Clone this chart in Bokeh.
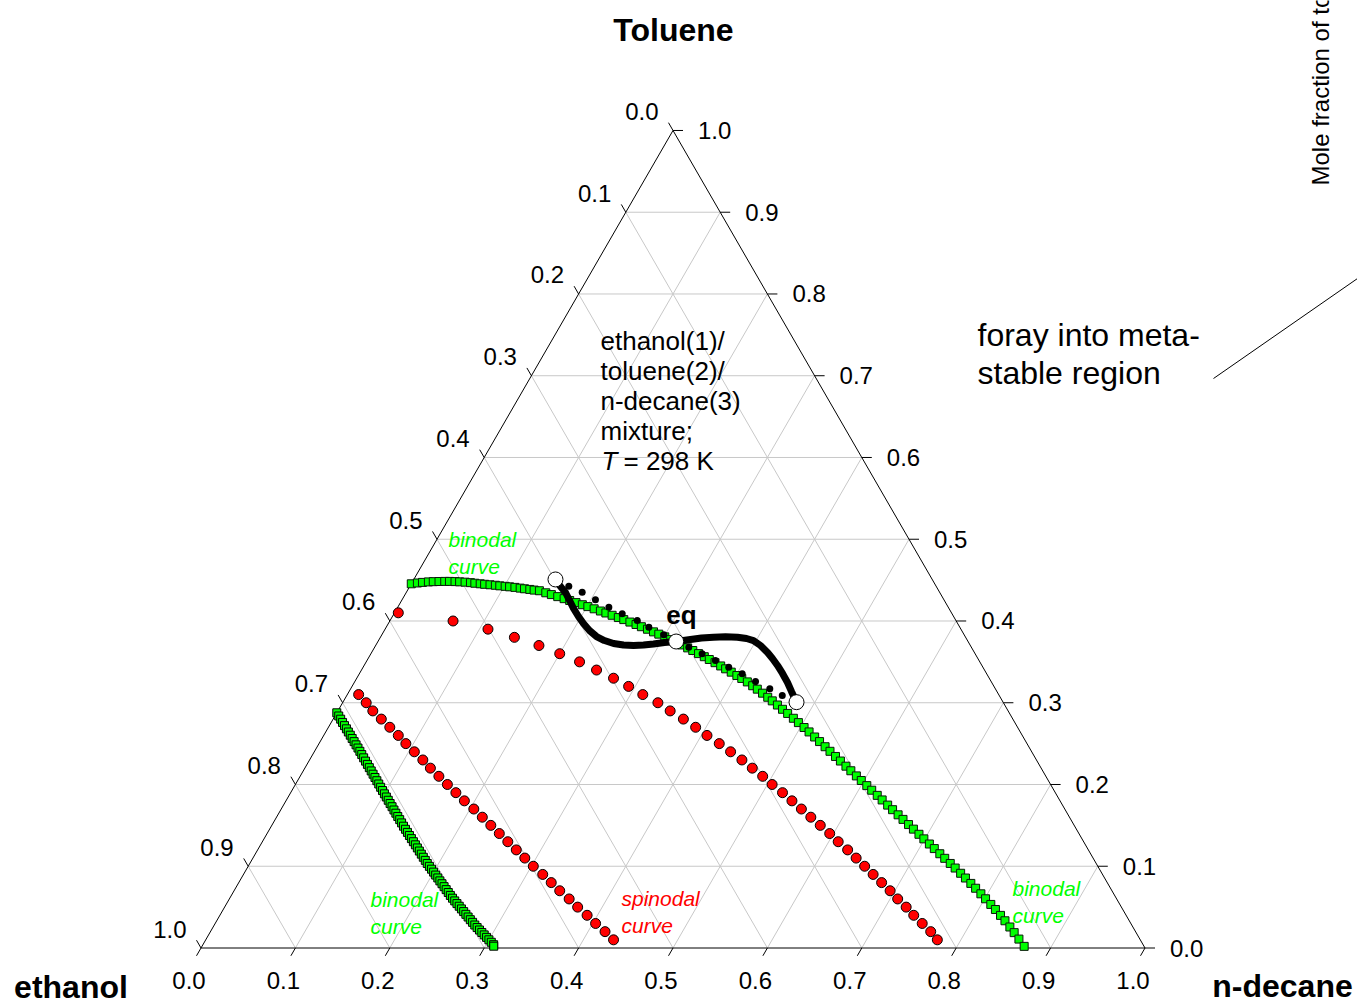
import math
from bokeh.plotting import figure
from bokeh.models import Range1d
from bokeh.core.properties import value
from bokeh.embed import file_html
from bokeh.resources import INLINE

# ---------------- data (mole fractions: decane = x3, toluene = x2) ----------------
tick_values = [0.0, 0.1, 0.2, 0.3, 0.4, 0.5, 0.6, 0.7, 0.8, 0.9, 1.0]
tick_labels = ["0.0", "0.1", "0.2", "0.3", "0.4", "0.5", "0.6", "0.7", "0.8", "0.9", "1.0"]

binodal_right_decane = [
    0.000, 0.006, 0.011, 0.017, 0.022, 0.028, 0.034, 0.039, 0.045, 0.050, 0.056, 0.062, 0.067,
    0.073, 0.078, 0.084, 0.090, 0.095, 0.101, 0.106, 0.112, 0.118, 0.123, 0.129, 0.134, 0.140,
    0.148, 0.155, 0.163, 0.171, 0.178, 0.186, 0.194, 0.201, 0.209, 0.217, 0.224, 0.232, 0.240,
    0.247, 0.255, 0.263, 0.270, 0.278, 0.286, 0.293, 0.301, 0.309, 0.316, 0.324, 0.332, 0.339,
    0.347, 0.355, 0.362, 0.370, 0.378, 0.385, 0.393, 0.401, 0.408, 0.416, 0.424, 0.431, 0.439,
    0.447, 0.454, 0.462, 0.470,
    0.478, 0.487, 0.495, 0.504, 0.512, 0.521, 0.529, 0.538, 0.546, 0.555, 0.563, 0.572, 0.580,
    0.589, 0.597, 0.606, 0.614, 0.623, 0.631, 0.640, 0.648, 0.657, 0.665, 0.674, 0.682, 0.691,
    0.699, 0.708, 0.716, 0.725, 0.733, 0.742, 0.750, 0.759, 0.767, 0.776, 0.784, 0.793, 0.801,
    0.810, 0.818, 0.827, 0.835, 0.844, 0.852, 0.861, 0.871]
binodal_right_toluene = [
    0.4455, 0.4465, 0.4472, 0.4478, 0.4481, 0.4483, 0.4484, 0.4484, 0.4482, 0.4479, 0.4475,
    0.4469, 0.4462, 0.4455, 0.4449, 0.4443, 0.4437, 0.4430, 0.4424, 0.4418, 0.4411, 0.4402,
    0.4394, 0.4386, 0.4378, 0.4370,
    0.4345, 0.4323, 0.4298, 0.4273, 0.4251, 0.4225, 0.4199, 0.4176, 0.4149, 0.4122, 0.4098,
    0.4070, 0.4042, 0.4017, 0.3987, 0.3957, 0.3930, 0.3899, 0.3867, 0.3839, 0.3806, 0.3772,
    0.3742, 0.3707, 0.3671, 0.3639, 0.3601, 0.3563, 0.3529, 0.3490, 0.3450, 0.3415, 0.3374,
    0.3333, 0.3297, 0.3255, 0.3208, 0.3166, 0.3117, 0.3067, 0.3023, 0.2972, 0.2920,
    0.2869, 0.2810, 0.2757, 0.2697, 0.2643, 0.2581, 0.2525, 0.2462, 0.2406, 0.2343, 0.2287,
    0.2224, 0.2168, 0.2105, 0.2049, 0.1986, 0.1930, 0.1867, 0.1811, 0.1748, 0.1692, 0.1629,
    0.1573, 0.1510, 0.1454, 0.1391, 0.1335, 0.1272, 0.1216, 0.1153, 0.1097, 0.1034, 0.0978,
    0.0914, 0.0856, 0.0790, 0.0731, 0.0663, 0.0602, 0.0533, 0.0471, 0.0399, 0.0333, 0.0257,
    0.0188, 0.0109, 0.0020]

binodal_left_decane = [
    0.000, 0.004, 0.008, 0.012, 0.016, 0.020, 0.024, 0.028, 0.032, 0.036, 0.040, 0.044, 0.048,
    0.052, 0.056, 0.060, 0.064, 0.068, 0.072, 0.076, 0.080, 0.084, 0.088, 0.092, 0.096, 0.100,
    0.104, 0.108, 0.112, 0.116, 0.120, 0.124, 0.128, 0.132, 0.136, 0.140, 0.144, 0.148, 0.152,
    0.156, 0.160, 0.164, 0.168, 0.172, 0.176, 0.180, 0.184, 0.188, 0.192, 0.196, 0.200, 0.204,
    0.208, 0.212, 0.216, 0.220, 0.224, 0.228, 0.232, 0.236, 0.240, 0.244, 0.248, 0.252, 0.256,
    0.260, 0.264, 0.268, 0.272, 0.276, 0.280, 0.284, 0.288, 0.292, 0.296, 0.300, 0.304, 0.308,
    0.309]
binodal_left_toluene = [
    0.2877, 0.2838, 0.2799, 0.2759, 0.2720, 0.2681, 0.2642, 0.2603, 0.2563, 0.2524, 0.2485,
    0.2446, 0.2406, 0.2366, 0.2326, 0.2286, 0.2246, 0.2206, 0.2166, 0.2126, 0.2086, 0.2046,
    0.2006, 0.1966, 0.1926, 0.1886, 0.1847, 0.1807, 0.1767, 0.1728, 0.1688, 0.1649, 0.1609,
    0.1570, 0.1530, 0.1490, 0.1452, 0.1414, 0.1376, 0.1338, 0.1300, 0.1262, 0.1224, 0.1186,
    0.1148, 0.1110, 0.1072, 0.1034, 0.0999, 0.0964, 0.0928, 0.0892, 0.0857, 0.0821, 0.0786,
    0.0750, 0.0714, 0.0679, 0.0643, 0.0609, 0.0576, 0.0543, 0.0511, 0.0478, 0.0445, 0.0412,
    0.0379, 0.0346, 0.0314, 0.0281, 0.0250, 0.0220, 0.0190, 0.0160, 0.0130, 0.0100, 0.0070,
    0.0040, 0.0022]

spinodal_right_toluene = [0.41, 0.40, 0.39, 0.38, 0.37, 0.36, 0.35, 0.34, 0.33, 0.32, 0.31, 0.30,
                          0.29, 0.28, 0.27, 0.26, 0.25, 0.24, 0.23, 0.22, 0.21, 0.20, 0.19, 0.18,
                          0.17, 0.16, 0.15, 0.14, 0.13, 0.12, 0.11, 0.10, 0.09, 0.08, 0.07, 0.06,
                          0.05, 0.04, 0.03, 0.02, 0.01]
spinodal_right_decane = [0.004, 0.067, 0.109, 0.142, 0.173, 0.200, 0.226, 0.249, 0.272, 0.293,
                         0.313, 0.334, 0.352, 0.371, 0.389, 0.406, 0.424, 0.441, 0.458, 0.474,
                         0.490, 0.505, 0.521, 0.536, 0.551, 0.566, 0.581, 0.596, 0.610, 0.625,
                         0.639, 0.653, 0.667, 0.681, 0.695, 0.708, 0.722, 0.735, 0.749, 0.763,
                         0.775]
spinodal_left_toluene = [0.31, 0.30, 0.29, 0.28, 0.27, 0.26, 0.25, 0.24, 0.23, 0.22, 0.21, 0.20,
                         0.19, 0.18, 0.17, 0.16, 0.15, 0.14, 0.13, 0.12, 0.11, 0.10, 0.09, 0.08,
                         0.07, 0.06, 0.05, 0.04, 0.03, 0.02, 0.01]
spinodal_left_decane = [0.012, 0.025, 0.037, 0.051, 0.065, 0.079, 0.092, 0.106, 0.120, 0.133,
                        0.147, 0.161, 0.175, 0.189, 0.204, 0.218, 0.232, 0.246, 0.260, 0.274,
                        0.288, 0.302, 0.317, 0.331, 0.345, 0.360, 0.374, 0.389, 0.403, 0.418,
                        0.432]

meta_dots_decane = [0.1683, 0.1862, 0.2049, 0.2236, 0.2418, 0.2618, 0.2782, 0.2987,
                    0.3327, 0.3509, 0.3691, 0.3873, 0.4056, 0.4244, 0.4440, 0.4613]
meta_dots_toluene = [0.4426, 0.4352, 0.4259, 0.4169, 0.4088, 0.4006, 0.3924, 0.3831,
                     0.3680, 0.3599, 0.3517, 0.3435, 0.3354, 0.3260, 0.3171, 0.3089]

path_decane = [0.1501, 0.1597, 0.1687, 0.1779, 0.1870, 0.1971, 0.2067, 0.2173, 0.2285,
               0.2393, 0.2508, 0.2623, 0.2732, 0.2835, 0.2934, 0.3041, 0.3159, 0.3298,
               0.3406, 0.3528, 0.3653, 0.3782, 0.3886, 0.3972, 0.4077, 0.4194, 0.4283,
               0.4379, 0.4481, 0.4589, 0.4686, 0.4805]
path_toluene = [0.4508, 0.4422, 0.4349, 0.4251, 0.4153, 0.4055, 0.3969, 0.3884, 0.3810,
                0.3761, 0.3725, 0.3706, 0.3700, 0.3706, 0.3719, 0.3737, 0.3749, 0.3774,
                0.3792, 0.3802, 0.3807, 0.3802, 0.3786, 0.3761, 0.3700, 0.3615, 0.3541,
                0.3456, 0.3358, 0.3248, 0.3138, 0.3007]

state_decane = [0.1501, 0.3159, 0.4805]
state_toluene = [0.4508, 0.3749, 0.3007]

# ---------------- geometry helpers ----------------
FONT = value("Liberation Sans")
S3 = math.sqrt(3) / 2
PX = 944.0             # pixels per unit triangle side
OX, OY = 200.5, 947.5  # page position of the ethanol corner
W, H = 1357, 1003


def sx(px):
    return (px - OX) / PX


def sy(py):
    return (OY - py) / PX


def tern(dec, tol):
    return ([d + t / 2 for d, t in zip(dec, tol)], [t * S3 for t in tol])


p = figure(width=W, height=H,
           x_range=Range1d(sx(0), sx(W)), y_range=Range1d(sy(H), sy(0)),
           output_backend="svg", toolbar_location=None, min_border=0,
           x_axis_location=None, y_axis_location=None)
p.grid.visible = False
p.outline_line_color = None
p.background_fill_color = "white"
p.border_fill_color = "white"

# grid
gxs, gys = [], []
for v in tick_values[1:-1]:
    for dec, tol in (([0, 1 - v], [v, v]), ([v, v], [0, 1 - v]), ([1 - v, 0], [0, 1 - v])):
        X, Y = tern(dec, tol)
        gxs.append(X)
        gys.append(Y)
p.multi_line(gxs, gys, line_color="#c8c8c8", line_width=1)

# triangle
TX, TY = tern([0, 1, 0, 0], [0, 0, 1, 0])
p.line(TX, TY, line_color="black", line_width=1)

# ticks and labels
TL = 9.0
txs, tys = [], []
bx, by, lx, ly, rx, ry = [], [], [], [], [], []
for v in tick_values:
    X, Y = tern([v], [0])
    txs.append([X[0], X[0] - 0.5 * TL / PX]); tys.append([Y[0], Y[0] - S3 * TL / PX])
    bx.append(X[0] - 12 / PX); by.append(sy(980))
    X, Y = tern([0], [1 - v])
    txs.append([X[0], X[0] - 0.5 * TL / PX]); tys.append([Y[0], Y[0] + S3 * TL / PX])
    lx.append(X[0] - 14.5 / PX); ly.append(Y[0] + 19 / PX)
    X, Y = tern([1 - v], [v])
    txs.append([X[0], X[0] + 10 / PX]); tys.append([Y[0], Y[0]])
    rx.append(X[0] + 25 / PX); ry.append(Y[0])
p.multi_line(txs, tys, line_color="black", line_width=1)
common = dict(text_font=FONT, text_font_size="24px", text_color="black", text_baseline="middle")
p.text(bx, by, text=tick_labels, text_align="center", **common)
p.text(lx, ly, text=tick_labels, text_align="right", **common)
p.text(rx, ry, text=tick_labels, text_align="left", **common)

# binodal curves
X, Y = tern(binodal_left_decane, binodal_left_toluene)
p.scatter(X, Y, marker="square", size=8, fill_color="#00ff00", line_color="#000000", line_width=1)
X, Y = tern(binodal_right_decane, binodal_right_toluene)
p.scatter(X, Y, marker="square", size=8, fill_color="#00ff00", line_color="#0a1a0a", line_width=1)

# spinodal curves
for dec, tol in ((spinodal_right_decane, spinodal_right_toluene), (spinodal_left_decane, spinodal_left_toluene)):
    X, Y = tern(dec, tol)
    p.scatter(X, Y, marker="circle", size=10, fill_color="#ff0000", line_color="black", line_width=1)

# metastable foray
X, Y = tern(meta_dots_decane, meta_dots_toluene)
p.scatter(X, Y, marker="circle", size=7, fill_color="black", line_color=None)
X, Y = tern(path_decane, path_toluene)
p.line(X, Y, line_color="black", line_width=7, line_join="round", line_cap="round")
X, Y = tern(state_decane, state_toluene)
p.scatter(X, Y, marker="circle", size=15, fill_color="white", line_color="black", line_width=1)


# texts
def txt(px, py, s, size, color="black", style="normal", align="left", angle=0.0):
    p.text([sx(px)], [sy(py)], text=[s], text_font=FONT, text_font_size=size, text_color=color,
           text_font_style=style, text_align=align, text_baseline="middle", angle=angle)


txt(673, 29, "Toluene", "32px", style="bold", align="center")
txt(70.5, 986, "ethanol", "32px", style="bold", align="center")
txt(1282, 985, "n-decane", "32px", style="bold", align="center")

for i, line in enumerate(["ethanol(1)/", "toluene(2)/", "n-decane(3)", "mixture;"]):
    txt(600, 340 + 30 * i, line, "26px")
txt(601, 460, "T", "26px", style="italic")
txt(623, 460, "= 298 K", "26px")

txt(977, 334, "foray into meta-", "32px")
txt(977, 372, "stable region", "32px")

txt(681, 614, "eq", "26px", style="bold", align="center")

GREEN = "#00ff00"
for gx0, gy0 in ((448, 539), (370, 899), (1012, 888)):
    txt(gx0, gy0, "binodal", "21px", color=GREEN, style="italic")
    txt(gx0, gy0 + 27, "curve", "21px", color=GREEN, style="italic")
txt(621, 898, "spinodal", "21px", color="#ff0000", style="italic")
txt(621, 925, "curve", "21px", color="#ff0000", style="italic")

# neighbouring panel fragments
txt(1320, 185, "Mole fraction of toluene", "24px", angle=math.pi / 2)
p.line([sx(1213), sx(1357)], [sy(378), sy(278)], line_color="black", line_width=1)

open("out.html", "w").write(file_html(p, INLINE))
